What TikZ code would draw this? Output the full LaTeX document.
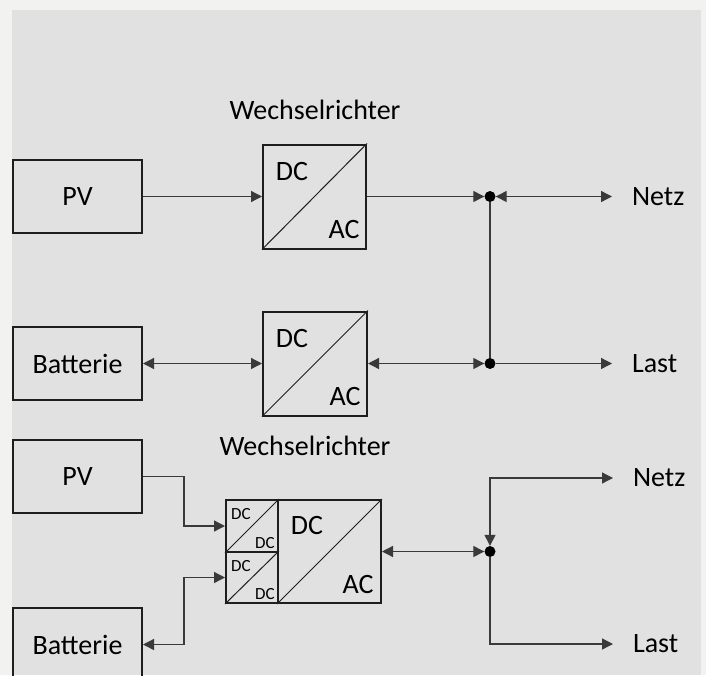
\documentclass[tikz,border=0pt]{standalone}
\usepackage{fontspec}
\setmainfont{Carlito}
\usepackage{xcolor}
\usetikzlibrary{arrows.meta, positioning}
\definecolor{outerbg}{HTML}{F2F2F0}
\definecolor{innerbg}{HTML}{E1E1E1}
\definecolor{boxc}{HTML}{1E1E1E}
\definecolor{linec}{HTML}{3A3A3A}

\begin{document}
\begin{tikzpicture}[
    x=1pt, y=-1pt,
    every node/.style={font=\fontsize{28}{34}\selectfont, align=center, text=black},
    src/.style={rectangle, draw=boxc, line width=2pt, minimum width=129pt, minimum height=73pt},
    conv/.style={rectangle, draw=boxc, line width=2pt, minimum width=103pt, minimum height=104pt},
    sub/.style={rectangle, draw=boxc, line width=2pt, minimum width=52pt, minimum height=52pt},
    dot/.style={circle, fill=black, inner sep=0pt, minimum size=11pt},
    lbl/.style={inner sep=0pt, outer xsep=20pt, anchor=west},
    small/.style={font=\fontsize{17}{20}\selectfont, inner sep=0pt},
    diag/.style={draw=boxc, line width=1pt},
    line/.style={draw=linec, line width=1.3pt},
    arr/.style={line, -{Triangle[length=11pt, width=11pt]}},
    darr/.style={line, {Triangle[length=11pt, width=11pt]}-{Triangle[length=11pt, width=11pt]}}
  ]
    \useasboundingbox (0,0) rectangle (706,675);
    \fill[outerbg] (0,0) rectangle (706,675);
    \fill[innerbg] (12,10) rectangle (701,675);

    % upper system: separate inverters
    \node (wr1) at (315,110) {Wechselrichter};
    \node[src] (pv1) at (77.5,196.5) {PV};
    \node[src] (bat1) at (77.5,363.5) {Batterie};
    \node[conv] (inv1) at (314.5,196.5) {};
    \node[conv, minimum width=104pt] (inv2) at (315,363.5) {};
    \draw[diag] (inv1.south west) -- (inv1.north east);
    \draw[diag] (inv2.south west) -- (inv2.north east);
    \node[inner sep=0pt] (inv1dc) at ([shift={(30,28)}]inv1.north west) {DC};
    \node[inner sep=0pt] (inv1ac) at ([shift={(-23,-20)}]inv1.south east) {AC};
    \node[inner sep=0pt] (inv2dc) at ([shift={(30,28)}]inv2.north west) {DC};
    \node[inner sep=0pt] (inv2ac) at ([shift={(-23,-20)}]inv2.south east) {AC};
    \node[dot] (dot1) at (490,196.5) {};
    \node[dot] (dot2) at (490,363.5) {};
    \node[lbl] (netz1) at (612,196.5) {Netz};
    \node[lbl] (last1) at (612,363.5) {Last};
    \draw[arr] (pv1) -- (inv1);
    \draw[arr] (inv1) -- (dot1);
    \draw[darr] (dot1) -- (netz1);
    \draw[line] (dot1) -- (dot2);
    \draw[darr] (bat1) -- (inv2);
    \draw[darr] (inv2) -- (dot2);
    \draw[arr] (dot2) -- (last1);

    % lower system: hybrid inverter
    \node (wr2) at (305,446) {Wechselrichter};
    \node[src] (pv2) at (77.5,476.5) {PV};
    \node[src] (bat2) at (77.5,644.5) {Batterie};
    \node[conv, minimum height=103pt] (hyb) at (329.5,551.5) {};
    \node[sub] (dd1) at (252,526) {};
    \node[sub, minimum height=51pt] (dd2) at (252,577.5) {};
    \draw[diag] (hyb.south west) -- (hyb.north east);
    \draw[diag] (dd1.south west) -- (dd1.north east);
    \draw[diag] (dd2.south west) -- (dd2.north east);
    \node[inner sep=0pt] (hybdc) at ([shift={(30,27)}]hyb.north west) {DC};
    \node[inner sep=0pt] (hybac) at ([shift={(-24,-20)}]hyb.south east) {AC};
    \node[small] (dd1a) at ([shift={(16,15)}]dd1.north west) {DC};
    \node[small] (dd1b) at ([shift={(-14,-10)}]dd1.south east) {DC};
    \node[small] (dd2a) at ([shift={(16,15)}]dd2.north west) {DC};
    \node[small] (dd2b) at ([shift={(-14,-10)}]dd2.south east) {DC};
    \node[dot] (dot3) at (490,551.5) {};
    \node[lbl] (netz2) at (613,478) {Netz};
    \node[lbl] (last2) at (613,644) {Last};
    \draw[arr] (pv2.east) -- ++(41,0) |- (dd1.west);
    \draw[darr] (bat2.east) -- ++(41,0) |- (dd2.west);
    \draw[darr] (hyb) -- (dot3);
    \draw[darr] (dot3) |- (netz2);
    \draw[arr] (dot3) |- (last2);
  \end{tikzpicture}
\end{document}
